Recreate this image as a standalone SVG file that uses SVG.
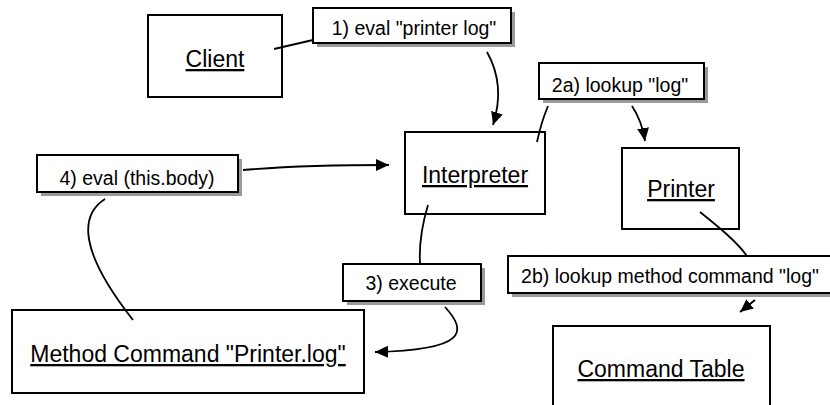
<svg xmlns="http://www.w3.org/2000/svg" width="830" height="405" viewBox="0 0 830 405">
<style>
.node{fill:#fff;stroke:#000;stroke-width:2}
.lbl{fill:#fff;stroke:#000;stroke-width:2}
.shadow{fill:#999;stroke:none}
.nt{font-family:"Liberation Sans",Arial,sans-serif;font-size:23px;text-anchor:middle;text-decoration:underline;fill:#000}
.lt{font-family:"Liberation Sans",Arial,sans-serif;font-size:19.5px;text-anchor:middle;fill:#000}
.c{fill:none;stroke:#000;stroke-width:1.8}
</style>
<defs>
<marker id="ah" markerUnits="userSpaceOnUse" markerWidth="14" markerHeight="12" refX="13" refY="6" orient="auto">
<path d="M0,0 L13,6 L0,12 z" fill="#000"/>
</marker>
</defs>
<rect width="830" height="405" fill="#fff"/>
<g id="client">
<rect class="node" x="148" y="15" width="134" height="82"/>
<text class="nt" x="215" y="67">Client</text>
</g>
<g id="interpreter">
<rect class="node" x="405" y="132" width="140" height="82"/>
<text class="nt" x="475" y="183">Interpreter</text>
</g>
<g id="printer">
<rect class="node" x="622" y="148" width="117" height="81"/>
<text class="nt" x="681" y="197">Printer</text>
</g>
<g id="method">
<rect class="node" x="12" y="310" width="352" height="83"/>
<text class="nt" x="188" y="362">Method Command "Printer.log"</text>
</g>
<g id="commandtable">
<rect class="node" x="553" y="326" width="217" height="90"/>
<text class="nt" x="661" y="377">Command Table</text>
</g>
<g id="connectors">
<path class="c" d="M274,49 L313,40"/>
<path class="c" d="M487,52 C500,75 501,100 493,125" marker-end="url(#ah)"/>
<path class="c" d="M548,106 C543,118 540,128 537,142"/>
<path class="c" d="M632,106 C638,115 643,128 645,141" marker-end="url(#ah)"/>
<path class="c" d="M700,212 C720,228 737,242 747,256"/>
<path class="c" d="M755,300 L740,312" marker-end="url(#ah)"/>
<path class="c" d="M243,170 C290,166 340,165 389,165" marker-end="url(#ah)"/>
<path class="c" d="M105,199 C80,215 78,250 133,320"/>
<path class="c" d="M428,205 C422,225 419,245 420,263"/>
<path class="c" d="M445,307 C468,332 466,350 375,352" marker-end="url(#ah)"/>
</g>
<g id="label1">
<rect class="shadow" x="317" y="12" width="198" height="35"/>
<rect class="lbl" x="313" y="8" width="198" height="35"/>
<text class="lt" x="414" y="35">1) eval "printer log"</text>
</g>
<g id="label2a">
<rect class="shadow" x="543" y="67" width="165" height="36"/>
<rect class="lbl" x="539" y="63" width="165" height="36"/>
<text class="lt" x="620" y="92">2a) lookup "log"</text>
</g>
<g id="label2b">
<rect class="shadow" x="512" y="260" width="330" height="37"/>
<rect class="lbl" x="508" y="256" width="330" height="37"/>
<text class="lt" x="670" y="283">2b) lookup method command "log"</text>
</g>
<g id="label3">
<rect class="shadow" x="347" y="268" width="138" height="37"/>
<rect class="lbl" x="343" y="264" width="138" height="37"/>
<text class="lt" x="411" y="290">3) execute</text>
</g>
<g id="label4">
<rect class="shadow" x="41" y="159" width="201" height="37"/>
<rect class="lbl" x="37" y="155" width="201" height="37"/>
<text class="lt" x="137" y="185">4) eval (this.body)</text>
</g>
</svg>
